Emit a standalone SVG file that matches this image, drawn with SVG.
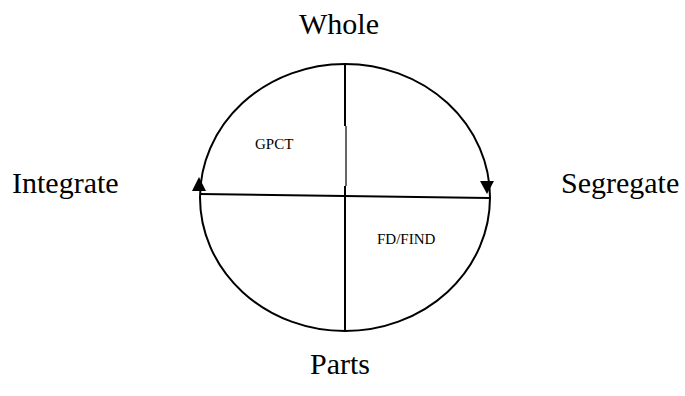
<svg xmlns="http://www.w3.org/2000/svg" width="685" height="396" viewBox="0 0 685 396">
<style>
.big{font-family:"Liberation Serif",serif;font-size:30px;fill:#000}
.small{font-family:"Liberation Serif",serif;font-size:15px;fill:#000}
.ln{stroke:#000;stroke-width:2;fill:none}
</style>
<rect width="685" height="396" fill="#fff"/>
<g id="circle">
<ellipse class="ln" cx="345" cy="197.5" rx="145" ry="133.5"/>
</g>
<g id="connectors">
<line class="ln" x1="345" y1="64" x2="345" y2="126"/>
<line stroke="#000" stroke-width="1.2" x1="346" y1="126" x2="346" y2="186"/>
<line class="ln" x1="345" y1="186" x2="345" y2="331"/>
<line class="ln" x1="200" y1="194" x2="489" y2="198"/>
<polygon points="199,177 192,191 206,191" fill="#000"/>
<polygon points="487,194 480,181 494,181" fill="#000"/>
</g>
<g id="whole"><text class="big" x="299" y="34">Whole</text></g>
<g id="parts"><text class="big" x="310" y="374">Parts</text></g>
<g id="integrate"><text class="big" x="12" y="193">Integrate</text></g>
<g id="segregate"><text class="big" x="561" y="193">Segregate</text></g>
<g id="gpct"><text class="small" x="255" y="149">GPCT</text></g>
<g id="fdfind"><text class="small" x="377" y="244">FD/FIND</text></g>
</svg>
